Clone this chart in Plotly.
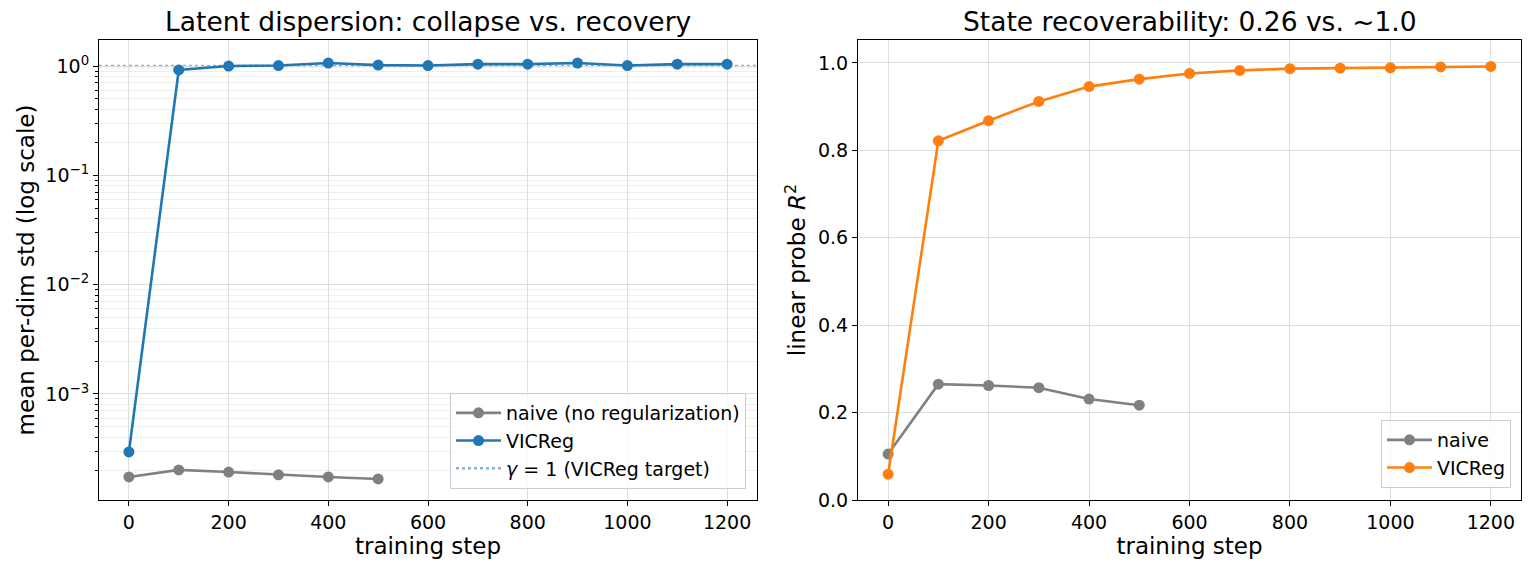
import plotly.graph_objects as go

# ---- data ----
steps_naive = [0, 100, 200, 300, 400, 500]
steps_vic = [0, 100, 200, 300, 400, 500, 600, 700, 800, 900, 1000, 1100, 1200]

std_naive = [1.74e-4, 2.02e-4, 1.93e-4, 1.82e-4, 1.74e-4, 1.67e-4]
std_vic = [2.95e-4, 0.92, 1.0, 1.01, 1.065, 1.02, 1.01, 1.04, 1.04, 1.065, 1.01, 1.04, 1.04]
gamma_target = 1.0

r2_naive = [0.105, 0.265, 0.262, 0.257, 0.231, 0.217]
r2_vic = [0.059, 0.822, 0.868, 0.912, 0.946, 0.963, 0.976, 0.983, 0.987, 0.988, 0.989, 0.991, 0.992]

x_ticks = [0, 200, 400, 600, 800, 1000, 1200]
log_tickvals = [1e-3, 1e-2, 1e-1, 1e0]
log_ticktext = ["10<sup>\u22123</sup>", "10<sup>\u22122</sup>", "10<sup>\u22121</sup>", "10<sup>0</sup>"]
r2_ticks = [0.0, 0.2, 0.4, 0.6, 0.8, 1.0]

GRAY = "#808080"
BLUE = "#1f77b4"
ORANGE = "#ff7f0e"
LIGHTBLUE = "rgba(31,119,180,0.55)"
FONT = "DejaVu Sans"

W, H = 1533, 572
def px_x(p):
    return p / W
def px_y(p):
    return 1 - p / H

fig = go.Figure()

line_w = 2.6
msize = 11

fig.add_trace(go.Scatter(x=steps_naive, y=std_naive, mode="lines+markers", name="naive (no regularization)",
                         line=dict(color=GRAY, width=line_w), marker=dict(size=msize, color=GRAY),
                         xaxis="x", yaxis="y", legend="legend"))
fig.add_trace(go.Scatter(x=steps_vic, y=std_vic, mode="lines+markers", name="VICReg",
                         line=dict(color=BLUE, width=line_w), marker=dict(size=msize, color=BLUE),
                         xaxis="x", yaxis="y", legend="legend"))
fig.add_trace(go.Scatter(x=[None], y=[None], mode="lines", name="<i>\u03b3</i> = 1 (VICReg target)",
                         line=dict(color=LIGHTBLUE, width=2.6, dash="dot"),
                         xaxis="x", yaxis="y", legend="legend"))
fig.add_shape(type="line", xref="x domain", yref="y", x0=0, x1=1, y0=gamma_target, y1=gamma_target,
              line=dict(color=LIGHTBLUE, width=2.6, dash="dot"), layer="below")

fig.add_trace(go.Scatter(x=steps_naive, y=r2_naive, mode="lines+markers", name="naive",
                         line=dict(color=GRAY, width=line_w), marker=dict(size=msize, color=GRAY),
                         xaxis="x2", yaxis="y2", legend="legend2"))
fig.add_trace(go.Scatter(x=steps_vic, y=r2_vic, mode="lines+markers", name="VICReg",
                         line=dict(color=ORANGE, width=line_w), marker=dict(size=msize, color=ORANGE),
                         xaxis="x2", yaxis="y2", legend="legend2"))

minor_vals = [k * 10.0 ** e for e in range(-4, 1) for k in range(2, 10)]

TICK_SIZE = 19
ax_common = dict(showline=True, linecolor="black", linewidth=1.2, mirror=True,
                 ticks="outside", ticklen=5, tickcolor="black", tickwidth=1,
                 showgrid=True, gridcolor="#dedede", gridwidth=1, zeroline=False,
                 automargin=False,
                 tickfont=dict(family=FONT, size=TICK_SIZE, color="black"))

title_font = dict(family=FONT, size=23, color="black")

fig.update_layout(
    width=W, height=H, margin=dict(l=0, r=0, t=0, b=0),
    paper_bgcolor="white", plot_bgcolor="white",
    font=dict(family=FONT, color="black"),
    xaxis=dict(domain=[px_x(99), px_x(757)], range=[-60, 1260], tickvals=x_ticks, anchor="y",
               title=dict(text="training step", font=title_font, standoff=4), **ax_common),
    yaxis=dict(domain=[px_y(500), px_y(40)], type="log", range=[-3.97, 0.238], anchor="x",
               tickvals=log_tickvals, ticktext=log_ticktext,
               minor=dict(tickvals=minor_vals, ticks="outside", ticklen=3, tickcolor="black",
                          showgrid=True, gridcolor="#eeeeee", gridwidth=1),
               title=dict(text="mean per-dim std (log scale)", font=title_font, standoff=4), **ax_common),
    xaxis2=dict(domain=[px_x(858), px_x(1521)], range=[-60, 1260], tickvals=x_ticks, anchor="y2",
                title=dict(text="training step", font=title_font, standoff=4), **ax_common),
    yaxis2=dict(domain=[px_y(500), px_y(40)], range=[0, 1.0526], anchor="x2", tickvals=r2_ticks,
                tickformat=".1f",
                title=dict(text="linear probe <i>R</i><sup>2</sup>", font=title_font, standoff=5), **ax_common),
    legend=dict(x=px_x(746), y=px_y(489), xanchor="right", yanchor="bottom",
                bgcolor="rgba(255,255,255,0.8)", bordercolor="#cccccc", borderwidth=1,
                font=dict(family=FONT, size=19, color="black"), itemwidth=45),
    legend2=dict(x=px_x(1511), y=px_y(488), xanchor="right", yanchor="bottom",
                 bgcolor="rgba(255,255,255,0.8)", bordercolor="#cccccc", borderwidth=1,
                 font=dict(family=FONT, size=19, color="black"), itemwidth=45),
    showlegend=True,
)

fig.add_annotation(text="Latent dispersion: collapse vs. recovery", xref="paper", yref="paper",
                   x=(px_x(99) + px_x(757)) / 2, y=px_y(22), xanchor="center", yanchor="middle",
                   showarrow=False, font=dict(family=FONT, size=26.5, color="black"))
fig.add_annotation(text="State recoverability: 0.26 vs. ~1.0", xref="paper", yref="paper",
                   x=(px_x(858) + px_x(1521)) / 2, y=px_y(22), xanchor="center", yanchor="middle",
                   showarrow=False, font=dict(family=FONT, size=26.5, color="black"))

fig.write_html("out.html")
